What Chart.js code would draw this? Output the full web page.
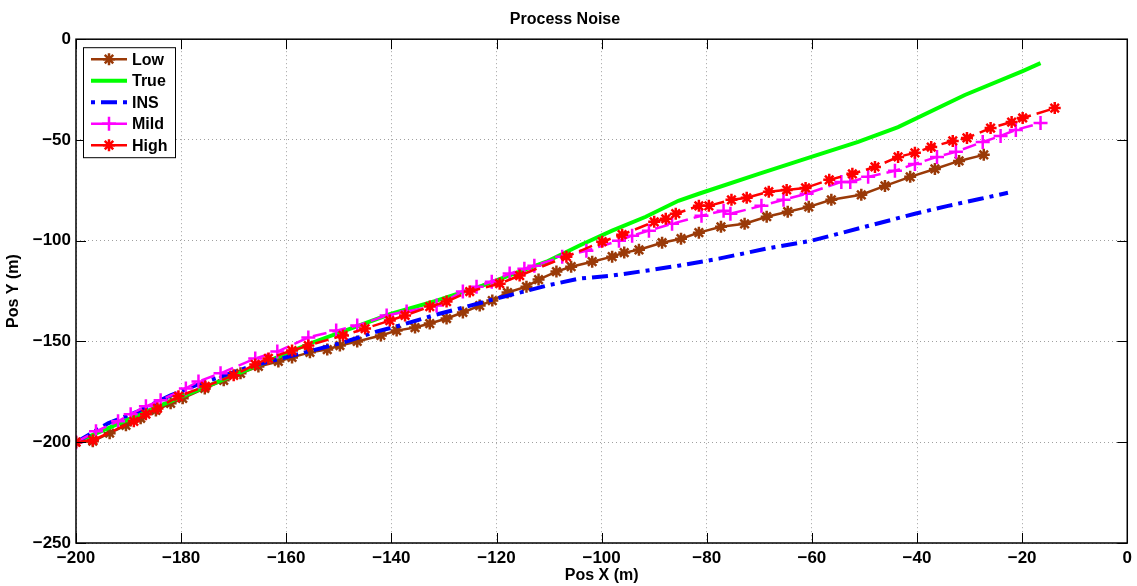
<!DOCTYPE html>
<html>
<head>
<meta charset="utf-8">
<script src="https://cdn.jsdelivr.net/npm/chart.js@4/dist/chart.umd.min.js"></script>
<style>
  html, body { margin: 0; padding: 0; background: #fff; }
  #wrap { width: 1137px; height: 586px; }
</style>
</head>
<body>
<div id="wrap"><canvas id="chart" width="1137" height="586"></canvas></div>
<script>
"use strict"

// data
const seriesNames = ['Low', 'True', 'INS', 'Mild', 'High'];

const lowX = [-200, -196.8, -193.6, -190.5, -187.7, -184.8, -182.0, -179.7, -175.5, -171.9, -168.7, -165.3, -161.5, -158.9, -155.5, -152.2, -149.8, -146.5, -142.0, -139.0, -135.5, -132.7, -129.5, -126.4, -123.2, -120.8, -117.9, -114.3, -112.0, -108.6, -105.8, -101.8, -98.0, -95.7, -92.9, -88.5, -84.9, -81.5, -77.3, -72.8, -68.6, -64.6, -60.6, -56.3, -50.6, -46.1, -41.3, -36.6, -32.0, -27.3];
const lowY = [-200, -199.5, -195.5, -191.6, -188.1, -184.2, -180.7, -178.2, -173.3, -169.3, -165.8, -162.4, -159.9, -157.9, -155.4, -154.0, -152.0, -150.0, -147.0, -144.6, -143.1, -141.1, -138.6, -135.6, -132.2, -129.7, -125.7, -122.8, -119.3, -115.3, -112.9, -110.4, -107.9, -105.9, -104.5, -101.0, -99.0, -96.0, -93.1, -91.6, -88.1, -85.6, -83.2, -79.7, -77.2, -72.8, -68.3, -64.4, -60.4, -57.4];

const trueX = [-200, -183.9, -166.8, -155.5, -140.3, -131.4, -122.7, -115.6, -110.5, -104.3, -98.0, -91.6, -85.4, -81.5, -70.1, -60.1, -51.2, -43.6, -30.9, -19.9, -16.5];
const trueY = [-200, -181.7, -163.4, -151.0, -136.5, -129.7, -122.3, -115.3, -110.4, -102.5, -95.0, -88.1, -80.2, -76.7, -66.8, -58.4, -51.0, -43.6, -27.7, -15.8, -11.9];

const insX = [-200, -193.9, -188.2, -182.0, -176.3, -166.8, -157.3, -149.2, -142.7, -138.4, -132.1, -125.7, -120.0, -110.5, -104.3, -98.0, -91.6, -85.4, -77.7, -68.8, -60.1, -49.9, -40.4, -34.1, -27.9, -22.7];
const insY = [-200, -190.6, -184.7, -176.7, -170.8, -162.4, -156.0, -150.5, -145.0, -142.1, -137.1, -132.7, -128.7, -122.3, -118.8, -117.3, -114.9, -112.4, -108.9, -104.0, -100.0, -93.1, -86.6, -82.7, -79.2, -76.2];

const mildX = [-200, -196.2, -192.0, -189.6, -186.7, -183.9, -179.1, -176.7, -172.5, -165.9, -161.7, -155.8, -150.5, -146.5, -140.9, -137.1, -131.4, -126.4, -123.8, -120.9, -117.5, -114.7, -112.8, -107.5, -102.9, -96.7, -94.2, -91.0, -86.6, -81.0, -76.8, -75.5, -69.6, -65.4, -61.0, -54.4, -52.7, -49.3, -44.2, -40.4, -36.2, -32.6, -27.5, -24.1, -21.2, -16.5];
const mildY = [-200, -194.6, -189.6, -186.1, -182.2, -179.2, -173.3, -169.8, -165.8, -158.4, -155.0, -148.0, -144.6, -142.1, -137.1, -135.1, -132.2, -125.2, -122.8, -120.3, -116.3, -113.9, -112.4, -107.9, -105.0, -100.0, -97.5, -95.0, -91.6, -87.6, -85.1, -86.6, -82.7, -79.7, -76.7, -70.8, -70.8, -68.3, -65.3, -61.9, -58.4, -55.9, -51.0, -48.0, -45.0, -41.6];

const highX = [-200, -196.8, -189.0, -186.7, -184.5, -180.5, -175.4, -170.0, -165.9, -163.4, -158.9, -155.8, -149.2, -145.0, -140.3, -137.4, -132.7, -129.5, -125.1, -119.4, -115.6, -106.7, -99.9, -96.1, -90.0, -87.8, -85.9, -81.5, -79.6, -75.3, -72.4, -68.2, -64.8, -61.2, -56.7, -52.3, -48.0, -43.6, -40.4, -37.3, -33.2, -30.5, -26.0, -22.0, -19.9, -13.8];
const highY = [-200, -199.0, -189.6, -186.1, -183.2, -177.2, -172.3, -166.8, -161.4, -158.4, -154.5, -152.0, -147.0, -143.6, -139.6, -137.1, -132.7, -130.2, -125.2, -121.3, -117.3, -107.9, -100.5, -97.0, -90.6, -89.1, -86.6, -82.7, -82.7, -79.7, -78.7, -75.7, -74.8, -73.8, -69.8, -66.8, -63.4, -58.4, -56.4, -53.5, -50.5, -49.0, -44.1, -41.1, -39.1, -34.2];

const xTicks = [-200, -180, -160, -140, -120, -100, -80, -60, -40, -20, 0];
const yTicks = [0, -50, -100, -150, -200, -250];

function pts(xs, ys) {
    return xs.map((x, i) => ({x: x, y: ys[i]}));
}

const fontName = '"Liberation Sans", Arial, sans-serif';
const minus = v => String(v).replace('-', '\u2212');

// box round the plot, inward ticks
const boxPlugin = {
    id: 'box',
    afterDraw(chart) {
        const ctx = chart.ctx;
        const a = chart.chartArea;
        const sx = chart.scales.x, sy = chart.scales.y;
        ctx.save();
        ctx.strokeStyle = '#000';
        ctx.lineWidth = 1;
        ctx.beginPath();
        xTicks.forEach(v => {
            const p = Math.round(sx.getPixelForValue(v)) + 0.5;
            ctx.moveTo(p, a.bottom); ctx.lineTo(p, a.bottom - 10);
            ctx.moveTo(p, a.top); ctx.lineTo(p, a.top + 10);
        });
        yTicks.forEach(v => {
            const p = Math.round(sy.getPixelForValue(v)) + 0.5;
            ctx.moveTo(a.left, p); ctx.lineTo(a.left + 10, p);
            ctx.moveTo(a.right, p); ctx.lineTo(a.right - 10, p);
        });
        ctx.stroke();
        ctx.lineWidth = 1.5;
        ctx.strokeRect(a.left, a.top, a.right - a.left, a.bottom - a.top);
        ctx.restore();
    }
};

// matlab style legend inside the axes
const legendPlugin = {
    id: 'matlabLegend',
    afterDraw(chart) {
        const ctx = chart.ctx;
        const a = chart.chartArea;
        const bx = a.left + 7, by = a.top + 8, bw = 92, bh = 110;
        ctx.save();
        ctx.fillStyle = '#fff';
        ctx.fillRect(bx, by, bw, bh);
        ctx.strokeStyle = '#000';
        ctx.lineWidth = 1;
        ctx.strokeRect(bx + 0.5, by + 0.5, bw, bh);
        ctx.font = 'bold 16px ' + fontName;
        ctx.textBaseline = 'middle';
        chart.data.datasets.forEach((ds, i) => {
            const y = by + 12 + i * 21.5;
            ctx.strokeStyle = ds.borderColor;
            ctx.lineWidth = ds.borderWidth;
            ctx.setLineDash(ds.legendDash || []);
            ctx.beginPath();
            ctx.moveTo(bx + 8, y);
            ctx.lineTo(bx + 44, y);
            ctx.stroke();
            ctx.setLineDash([]);
            if (ds.pointRadius > 0) {
                ctx.fillStyle = ds.pointBackgroundColor;
                ctx.strokeStyle = ds.pointBorderColor;
                ctx.lineWidth = ds.pointBorderWidth;
                Chart.helpers.drawPoint(ctx, {
                    pointStyle: ds.pointStyle, rotation: 0,
                    radius: ds.pointRadius, borderWidth: ds.pointBorderWidth
                }, bx + 26, y);
            }
            ctx.fillStyle = '#000';
            ctx.fillText(seriesNames[i], bx + 49, y + 1);
        });
        ctx.restore();
    }
};

const brown = '#9a3a08';

new Chart(document.getElementById('chart'), {
    type: 'line',
    data: {
        datasets: [{
            label: seriesNames[0],
            data: pts(lowX, lowY),
            borderColor: brown,
            borderWidth: 2.5,
            pointStyle: 'star',
            pointRadius: 6,
            pointBorderWidth: 2.5,
            pointBorderColor: brown,
            pointBackgroundColor: brown,
            order: 5
        }, {
            label: seriesNames[1],
            data: pts(trueX, trueY),
            borderColor: '#00ff00',
            borderWidth: 4,
            pointRadius: 0,
            order: 4
        }, {
            label: seriesNames[2],
            data: pts(insX, insY),
            borderColor: '#0000ff',
            borderWidth: 4,
            borderDash: [16, 6, 4, 6],
            legendDash: [4, 6, 16, 6],
            pointRadius: 0,
            order: 3
        }, {
            label: seriesNames[3],
            data: pts(mildX, mildY),
            borderColor: '#ff00ff',
            borderWidth: 2.5,
            borderDash: [14, 6],
            pointStyle: 'cross',
            pointRadius: 7,
            pointBorderWidth: 2.5,
            pointBorderColor: '#ff00ff',
            pointBackgroundColor: '#ff00ff',
            order: 2
        }, {
            label: seriesNames[4],
            data: pts(highX, highY),
            borderColor: '#ff0000',
            borderWidth: 2.5,
            borderDash: [14, 6],
            pointStyle: 'star',
            pointRadius: 6,
            pointBorderWidth: 2.5,
            pointBorderColor: '#ff0000',
            pointBackgroundColor: '#ff0000',
            order: 1
        }]
    },
    options: {
        responsive: false,
        animation: false,
        layout: { padding: { top: 4, right: 7, left: 0, bottom: 0 } },
        plugins: {
            legend: { display: false },
            tooltip: { enabled: false },
            title: {
                display: true,
                text: 'Process Noise',
                color: '#000',
                font: { family: fontName, size: 16, weight: 'bold' },
                padding: { top: 6, bottom: 10 }
            }
        },
        scales: {
            x: {
                type: 'linear',
                min: -200, max: 0,
                afterBuildTicks: s => { s.ticks = xTicks.map(v => ({value: v})); },
                afterFit: s => { s.height = 43; },
                ticks: {
                    color: '#000',
                    padding: 5,
                    maxRotation: 0,
                    font: { family: fontName, size: 17, weight: 'bold' },
                    callback: v => minus(v)
                },
                grid: { color: '#a0a0a0', lineWidth: 1, drawTicks: false },
                border: { display: false, dash: [1, 3] },
                title: {
                    display: true,
                    text: 'Pos X (m)',
                    color: '#000',
                    font: { family: fontName, size: 16, weight: 'bold' },
                    padding: { top: 0, bottom: 1 }
                }
            },
            y: {
                type: 'linear',
                min: -250, max: 0,
                afterBuildTicks: s => { s.ticks = yTicks.map(v => ({value: v})); },
                afterFit: s => { s.width = 76; },
                ticks: {
                    color: '#000',
                    padding: 5,
                    font: { family: fontName, size: 17, weight: 'bold' },
                    callback: v => minus(v)
                },
                grid: { color: '#a0a0a0', lineWidth: 1, drawTicks: false },
                border: { display: false, dash: [1, 3] },
                title: {
                    display: true,
                    text: 'Pos Y (m)',
                    color: '#000',
                    font: { family: fontName, size: 16, weight: 'bold' },
                    padding: { top: 4, bottom: 0 }
                }
            }
        }
    },
    plugins: [boxPlugin, legendPlugin]
});
</script>
</body>
</html>
